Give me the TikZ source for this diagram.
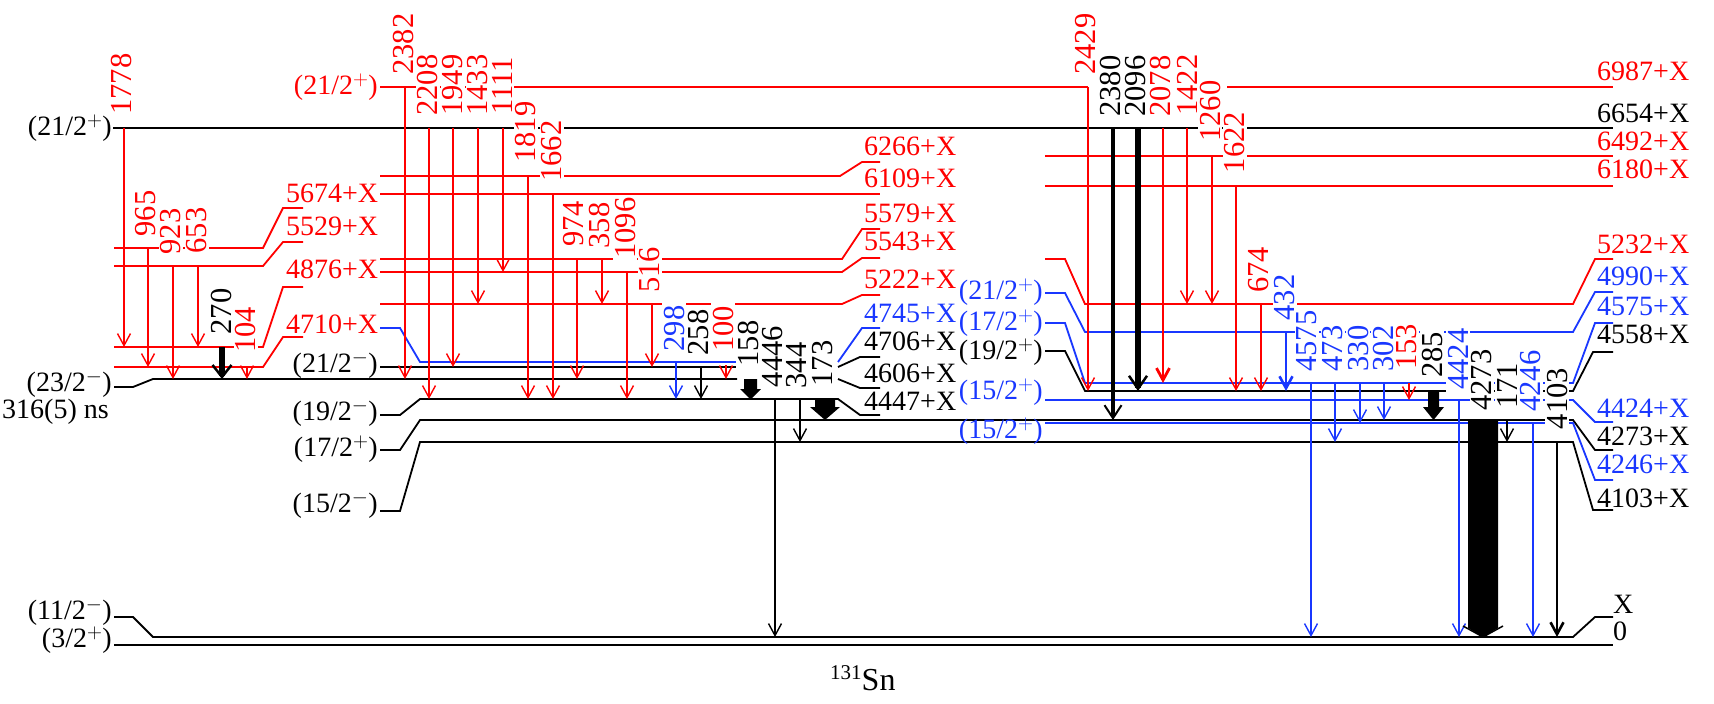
\documentclass[tikz,border=0pt]{standalone}
\usepackage{fontspec}
\setmainfont{Liberation Serif}
\usetikzlibrary{arrows.meta}
\definecolor{myred}{RGB}{255,0,0}
\definecolor{myblue}{RGB}{25,55,255}
\newcommand\gamfont{\fontsize{30.5}{32}\selectfont}
\newcommand\levfont{\fontsize{28}{30}\selectfont}
\tikzset{
 lev/.style={line width=1.8pt},
 tr/.style={line width=1.4pt,-{Straight Barb[length=12pt,width=13pt]}},
 gl/.style={rotate=90,fill=white,inner xsep=3pt,inner ysep=1.5pt,font=\gamfont},
 ll/.style={anchor=base west,inner sep=0pt,font=\levfont},
 jl/.style={anchor=east,inner sep=0pt,font=\levfont},
}
\begin{document}
\begin{tikzpicture}[x=1pt,y=-1pt]
\useasboundingbox (0,0) rectangle (1714,704);
% ---------- black levels
\draw[lev] (113,128) -- (1613,128);
\draw[lev] (114,387) -- (133,387) -- (153,379) -- (737,379);
\draw[lev] (838,379) -- (860,388) -- (880,388);
\draw[lev] (380,367) -- (737,367);
\draw[lev] (838,367) -- (860,357) -- (880,357);
\draw[lev] (380,415) -- (400,415) -- (420,399) -- (838,399) -- (860,415) -- (880,415);
\draw[lev] (380,450) -- (400,450) -- (420,420) -- (1573,420) -- (1595,450) -- (1613,450);
\draw[lev] (380,511) -- (400,511) -- (420,442) -- (1573,442) -- (1593,510) -- (1613,510);
\draw[lev] (1045,351) -- (1065,351) -- (1085,391) -- (1573,391) -- (1593,352) -- (1613,352);
\draw[lev] (114,617) -- (133,617) -- (153,637) -- (1573,637) -- (1595,617) -- (1613,617);
\draw[lev] (114,645) -- (1613,645);
% ---------- red levels
\draw[lev,myred] (380,87) -- (1088,87);
\draw[lev,myred] (1227,87) -- (1613,87);
\draw[lev,myred] (1045,156) -- (1613,156);
\draw[lev,myred] (1045,186) -- (1613,186);
\draw[lev,myred] (380,176) -- (840,176) -- (862,162) -- (880,162);
\draw[lev,myred] (380,194) -- (880,194);
\draw[lev,myred] (380,259) -- (842,259) -- (862,229) -- (880,229);
\draw[lev,myred] (380,272) -- (842,272) -- (862,258) -- (880,258);
\draw[lev,myred] (380,304) -- (842,304) -- (862,295) -- (880,295);
\draw[lev,myred] (1045,259) -- (1065,259) -- (1085,304) -- (1573,304) -- (1595,259) -- (1613,259);
\draw[lev,myred] (114,248) -- (263,248) -- (283,208) -- (303,208);
\draw[lev,myred] (114,266) -- (263,266) -- (283,242) -- (303,242);
\draw[lev,myred] (114,347) -- (263,347) -- (283,287) -- (303,287);
\draw[lev,myred] (114,367) -- (263,367) -- (283,337) -- (303,337);
% ---------- blue levels
\draw[lev,myblue] (380,328) -- (400,328) -- (420,362) -- (737,362);
\draw[lev,myblue] (838,362) -- (862,328) -- (880,328);
\draw[lev,myblue] (1045,293) -- (1065,293) -- (1085,332) -- (1573,332) -- (1595,292) -- (1613,292);
\draw[lev,myblue] (1045,323) -- (1065,323) -- (1085,383) -- (1573,383) -- (1595,323) -- (1613,323);
\draw[lev,myblue] (1045,400) -- (1573,400) -- (1595,422) -- (1613,422);
\draw[lev,myblue] (1045,423) -- (1573,423) -- (1595,480) -- (1613,480);
% ---------- transitions
\foreach \x/\a/\b in {124/128/347,148/248/367,173/266/379,198/266/347,247/367/379,
  405/87/379,429/128/399,453/128/367,478/128/304,503/128/272,528/176/399,553/194/399,
  577/259/379,602/259/304,627/272/399,652/304/367,726/365/379,
  1088/87/391,1187/128/304,1212/156/304,1236/186/391,1261/304/391,1409/383/400}
  \draw[tr,myred] (\x,\a) -- (\x,\b);
\foreach \x/\a/\b in {676/362/399,1311/383/637,1335/383/442,1360/383/423,1384/383/420,
  1459/400/637,1533/423/637}
  \draw[tr,myblue] (\x,\a) -- (\x,\b);
\foreach \x/\a/\b in {701/367/399,775/399/637,800/399/442,1507/420/442}
  \draw[tr] (\x,\a) -- (\x,\b);
\draw[tr,myred,line width=2.8pt] (1163,128) -- (1163,383);
\draw[tr,myblue,line width=2.6pt] (1286,332) -- (1286,391);
\draw[tr,line width=2.6pt] (1557,442) -- (1557,637);
\draw[line width=6pt,-{Straight Barb[length=12pt,width=19pt,line width=2.5pt]}] (222,347) -- (222,379);
\draw[line width=4.5pt,-{Straight Barb[length=13pt,width=17pt,line width=2pt]}] (1113,128) -- (1113,420);
\draw[line width=6pt,-{Straight Barb[length=13pt,width=18pt,line width=2.5pt]}] (1138,128) -- (1138,391);
\fill (744,379) -- (757,379) -- (757,389) -- (761,389) -- (750.5,399.5) -- (740,389) -- (744,389) -- cycle;
\fill (815,399) -- (835,399) -- (835,407) -- (840,407) -- (825,420) -- (810,407) -- (815,407) -- cycle;
\fill (1428,391) -- (1439,391) -- (1439,407) -- (1444,407) -- (1433.5,420) -- (1423,407) -- (1428,407) -- cycle;
\fill (1468,420) -- (1498,420) -- (1498,628) -- (1483,637) -- (1468,628) -- cycle;
\draw[line width=1.5pt] (1463,626) -- (1483,637) -- (1503,626);
% ---------- gamma labels
\foreach \x/\y/\t in {122/84/1778,146/213.5/965,171/231.5/923,197/230.5/653,246/330/104,
  404/44/2382,428/85/2208,453/85/1949,478/85/1433,502/86/1111,526/132/1819,552/151/1662,
  574/224/974,600/225.5/358,625/228/1096,650/270/516,723/329/100,
  1086/44/2429,1160/86/2078,1187/85/1422,1210/111/1260,1235/142.5/1622,1259/270/674,1407/347/153}
  \node[gl,text=myred] (g\t) at (\x,\y) {\t};
\foreach \x/\y/\t in {674/328.5/298,1285/297.5/432,1307/341/4575,1333/348.5/473,1358/348.5/330,
  1383/348.5/302,1458/359/4424,1531/381/4246}
  \node[gl,text=myblue] (g\t) at (\x,\y) {\t};
\foreach \x/\y/\t in {222/311.5/270,698/332.5/258,748/343.5/158,773/356.5/4446,797/365.5/344,
  823/363.5/173,1110/86/2380,1135/86/2096,1432/355/285,1482/380/4273,1507/386/171,1557/398.5/4103}
  \node[gl] (g\t) at (\x,\y) {\t};
% ---------- level energy labels
\foreach \y/\t in {202/5674,235/5529,278/4876,333/4710}
  \node[ll,text=myred] (l\t) at (286,\y) {\t+X};
\foreach \y/\t in {155/6266,187/6109,222/5579,250/5543,288/5222}
  \node[ll,text=myred] (l\t) at (864,\y) {\t+X};
\node[ll,text=myblue] (l4745) at (864,322) {4745+X};
\foreach \y/\t in {350/4706,382/4606,410/4447}
  \node[ll] (l\t) at (864,\y) {\t+X};
\foreach \y/\t in {80/6987,150/6492,178/6180,253/5232}
  \node[ll,text=myred] (l\t) at (1597,\y) {\t+X};
\foreach \y/\t in {285/4990,315/4575,417/4424,473/4246}
  \node[ll,text=myblue] (l\t) at (1597,\y) {\t+X};
\foreach \y/\t in {122/6654,343/4558,445/4273,507/4103}
  \node[ll] (l\t) at (1597,\y) {\t+X};
\node[ll] (lX) at (1613,613) {X};
\node[ll] (lzero) at (1613,640) {0};
% ---------- spin labels
\node[jl] (j1) at (112,128) {(21/2$^{+}$)};
\node[jl] (j2) at (112,384) {(23/2$^{-}$)};
\node[anchor=west,inner sep=0pt,font=\levfont] (iso) at (2,412) {316(5) ns};
\node[jl] (j3) at (112,612) {(11/2$^{-}$)};
\node[jl] (j4) at (112,640) {(3/2$^{+}$)};
\node[jl,text=myred] (j5) at (378,87) {(21/2$^{+}$)};
\node[jl] (j6) at (378,365) {(21/2$^{-}$)};
\node[jl] (j7) at (378,413) {(19/2$^{-}$)};
\node[jl] (j8) at (378,449) {(17/2$^{+}$)};
\node[jl] (j9) at (378,505) {(15/2$^{-}$)};
\node[jl,text=myblue] (j10) at (1043,292) {(21/2$^{+}$)};
\node[jl,text=myblue] (j11) at (1043,323) {(17/2$^{+}$)};
\node[jl] (j12) at (1043,352) {(19/2$^{+}$)};
\node[jl,text=myblue] (j13) at (1043,392) {(15/2$^{+}$)};
\node[jl,text=myblue] (j14) at (1043,431) {(15/2$^{+}$)};
% ---------- nucleus
\node[anchor=base west,inner sep=0pt] (nuc) at (830,690) {\fontsize{21}{22}\selectfont\raisebox{11pt}{131}\fontsize{32}{34}\selectfont Sn};
\end{tikzpicture}
\end{document}
